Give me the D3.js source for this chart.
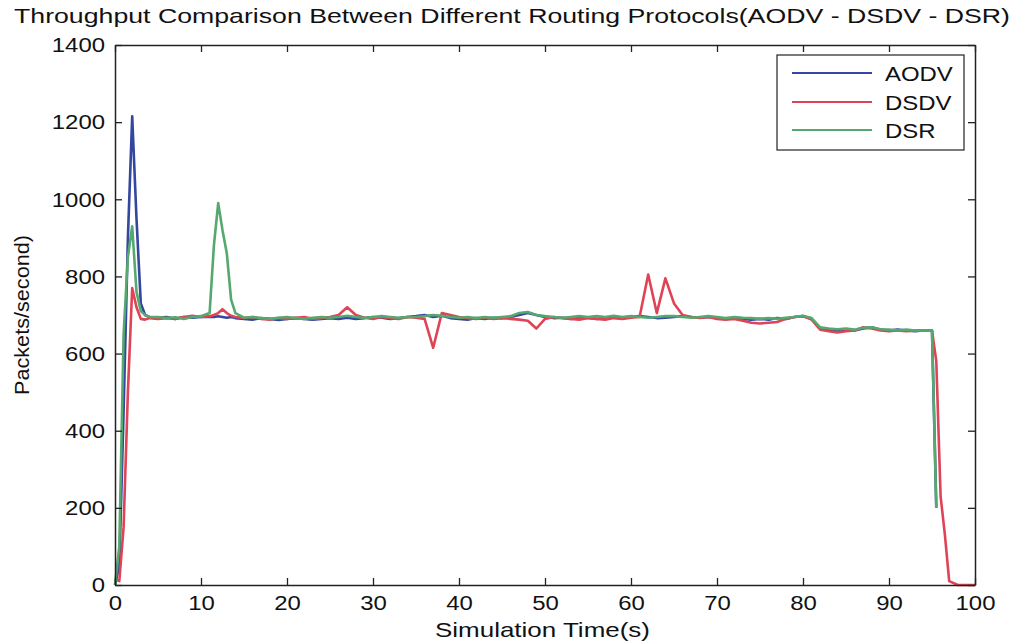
<!DOCTYPE html>
<html><head><meta charset="utf-8">
<script src="https://cdn.jsdelivr.net/npm/d3@7"></script>
<style>
body{margin:0;background:#fff;}
svg{display:block;}
text{font-family:"Liberation Sans",Arial,sans-serif;fill:#111;}
</style></head>
<body><svg id="c" width="1023" height="642"></svg>
<script>
const times = [0,0.5,1,1.5,2,2.5,3,3.5,4,
 5,6,7,8,9,10,
 11,11.5,12,12.5,13,13.5,14,
 15,16,17,18,19,20,21,22,23,24,
 25,26,27,28,29,30,31,32,33,34,
 35,36,37,38,39,40,41,42,43,44,
 45,46,47,48,49,50,51,52,53,54,
 55,56,57,58,59,60,61,62,63,64,
 65,66,67,68,69,70,71,72,73,74,
 75,76,77,78,79,80,81,82,83,84,
 85,86,87,88,89,90,91,92,93,94,
 95,95.5,96,96.5,97,98,99,100];

const aodv = [0,50,450,900,1215,950,730,700,695,
 693,695,690,695,693,695,
 695,695,697,695,693,695,692,
 690,688,692,690,687,690,692,690,688,690,
 692,690,693,690,692,695,693,690,692,695,
 697,700,695,698,692,690,688,692,690,693,
 692,695,700,705,700,695,692,693,690,692,
 693,690,692,695,693,695,697,695,692,693,
 695,697,695,693,695,692,690,693,690,688,
 690,688,692,690,695,697,690,665,662,660,
 662,660,665,668,662,660,662,660,658,660,
 660,200,null,null,null,null,null,null];

const dsdv = [15,10,150,500,770,720,690,688,692,
 690,692,690,695,698,695,
 697,700,705,715,705,698,695,
 692,695,690,688,692,690,693,695,690,692,
 695,700,720,700,693,690,695,692,690,695,
 693,690,615,705,700,695,692,690,693,690,
 692,690,688,685,665,690,695,692,690,688,
 692,690,688,692,690,693,695,805,705,795,
 730,700,695,692,695,690,688,690,685,680,
 678,680,682,690,695,697,688,662,658,655,
 658,660,668,665,660,658,660,658,660,660,
 660,580,230,130,10,0,0,0];

const dsr = [0,100,650,850,930,760,710,700,695,
 695,692,694,690,695,697,
 705,880,990,920,860,740,705,
 693,695,692,690,693,695,692,690,693,695,
 693,695,698,695,692,695,697,695,693,695,
 695,697,700,698,695,693,695,692,695,693,
 695,697,705,708,700,697,695,693,695,697,
 695,697,695,698,695,697,695,693,695,697,
 697,695,693,695,697,695,692,695,693,692,
 690,692,690,693,695,698,692,668,665,663,
 665,662,667,668,663,662,660,662,660,660,
 660,200,null,null,null,null,null,null];

const seriesNames = ["AODV","DSDV","DSR"];
const seriesColors = ["#34479e","#de4456","#55a86e"];
const xTicks = [0,10,20,30,40,50,60,70,80,90,100];
const yTicks = [0,200,400,600,800,1000,1200,1400];

(function(){
const SX = 1.14;
const svg = d3.select("#c");
const L=115, R=975, T=45, B=585;
const x = d3.scaleLinear().domain([0,100]).range([L,R]);
const y = d3.scaleLinear().domain([0,1400]).range([B,T]);

const allSeries = [aodv,dsdv,dsr];
const line = d3.line()
  .defined(d=>d.v!==null)
  .x(d=>x(d.t)).y(d=>y(d.v));
allSeries.forEach((s,i)=>{
  const pts = times.map((t,j)=>({t:t,v:s[j]}));
  svg.append("path").datum(pts)
    .attr("d",line).attr("fill","none")
    .attr("stroke",seriesColors[i]).attr("stroke-width",2.6)
    .attr("stroke-linejoin","round");
});

const ax = (g)=>{g.selectAll(".domain").attr("stroke","#222").attr("stroke-width",1.5);
  g.selectAll(".tick line").attr("stroke","#222").attr("stroke-width",1.3);};
const fmt = d3.format("d");
const gBottom = svg.append("g").attr("transform",`translate(0,${B})`)
  .call(d3.axisBottom(x).tickValues(xTicks).tickFormat(fmt).tickSizeInner(-7).tickSizeOuter(0).tickPadding(10));
gBottom.call(ax);
gBottom.selectAll("text").attr("font-size",21).attr("fill","#111")
  .attr("font-family","Liberation Sans, Arial, sans-serif")
  .attr("transform",`scale(${SX},1)`);
const gTop = svg.append("g").attr("transform",`translate(0,${T})`)
  .call(d3.axisTop(x).tickValues(xTicks).tickSizeInner(-7).tickSizeOuter(0).tickFormat(""));
gTop.call(ax);
const gLeft = svg.append("g").attr("transform",`translate(${L},0)`)
  .call(d3.axisLeft(y).tickValues(yTicks).tickFormat(fmt).tickSizeInner(-7).tickSizeOuter(0).tickPadding(10));
gLeft.call(ax);
gLeft.selectAll("text").attr("font-size",21).attr("fill","#111")
  .attr("font-family","Liberation Sans, Arial, sans-serif")
  .attr("x",-10/SX).attr("transform",`scale(${SX},1)`);
const gRight = svg.append("g").attr("transform",`translate(${R},0)`)
  .call(d3.axisRight(y).tickValues(yTicks).tickSizeInner(-7).tickSizeOuter(0).tickFormat(""));
gRight.call(ax);

svg.append("text").attr("x",14).attr("y",23)
  .attr("font-size",21).attr("textLength",996).attr("lengthAdjust","spacingAndGlyphs")
  .text("Throughput Comparison Between Different Routing Protocols(AODV - DSDV - DSR)");
svg.append("text").attr("x",435).attr("y",637)
  .attr("font-size",21).attr("textLength",215).attr("lengthAdjust","spacingAndGlyphs")
  .text("Simulation Time(s)");
svg.append("text").attr("transform","translate(29,315) rotate(-90)")
  .attr("text-anchor","middle").attr("font-size",21)
  .attr("textLength",160).attr("lengthAdjust","spacingAndGlyphs")
  .text("Packets/second)");

const lg = svg.append("g");
lg.append("rect").attr("x",777).attr("y",55).attr("width",187).attr("height",95)
  .attr("fill","#fff").attr("stroke","#222").attr("stroke-width",1.2);
const rowsY=[73,102,130];
seriesNames.forEach((n,i)=>{
  lg.append("line").attr("x1",792).attr("x2",872).attr("y1",rowsY[i]).attr("y2",rowsY[i])
    .attr("stroke",seriesColors[i]).attr("stroke-width",2.2);
  lg.append("text").attr("transform",`translate(885,${rowsY[i]+7.5}) scale(${SX},1)`)
    .attr("font-size",21).text(n);
});
})();
</script></body></html>
